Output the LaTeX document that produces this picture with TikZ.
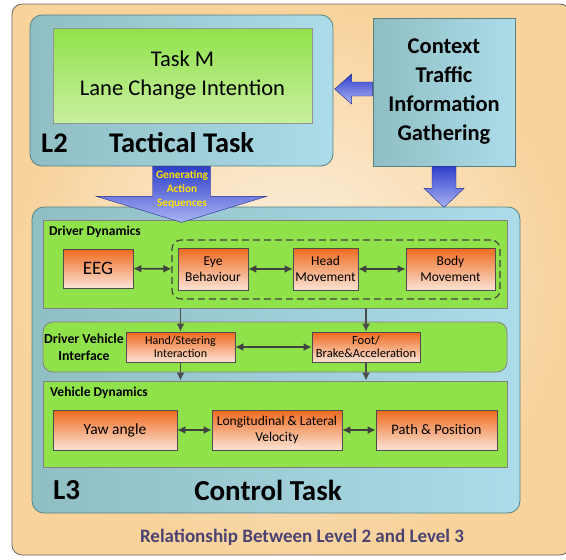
\documentclass[tikz,border=0pt]{standalone}
\usepackage{fontspec}
\setmainfont{Carlito}
\usetikzlibrary{arrows,arrows.meta,positioning,calc,shapes}
\tikzset{>=latex}
\definecolor{peach}{HTML}{F8D39C}
\definecolor{cream}{HTML}{FCF2E4}
\definecolor{tealA}{HTML}{8FBEC3}
\definecolor{tealB}{HTML}{ACDCE9}
\definecolor{leaf}{HTML}{90E24A}
\definecolor{leafB}{HTML}{C9EFA0}
\definecolor{rust}{HTML}{EF6A1E}
\definecolor{blush}{HTML}{FBE3D6}
\definecolor{navy}{HTML}{2F3FCB}
\definecolor{sky}{HTML}{A9B3F4}
\definecolor{plum}{HTML}{4A4272}
\tikzset{
  frame/.style={draw=gray!80!black, line width=0.8pt, rounded corners=10pt, inner color=cream, outer color=peach},
  task/.style={draw=gray!70!teal, line width=0.8pt, rounded corners=12pt, left color=tealA, right color=tealB},
  ctxbox/.style={draw=gray!70!teal, line width=0.8pt, left color=tealA, right color=tealB},
  layer/.style={draw=gray!60!black!70, line width=0.8pt, fill=leaf},
  item/.style={draw=gray!60!black, line width=0.6pt, top color=rust, bottom color=blush, align=center, inner sep=1pt},
  bluearrow/.style={draw=navy!70!black, line width=0.4pt, top color=navy, bottom color=sky},
  link/.style={{Latex[length=8pt,width=8pt]}-{Latex[length=8pt,width=8pt]}, line width=1.6pt, color=black!75},
  down/.style={-{Latex[length=8pt,width=8pt]}, line width=1.6pt, color=black!70},
  lab/.style={font=\bfseries\fontsize{13.5}{16}\selectfont, anchor=north west, inner sep=0pt}
}

\begin{document}
\begin{tikzpicture}[x=1pt,y=-1pt]
\useasboundingbox (0,0) rectangle (566,560);
\path[frame] (12,4) rectangle (570,555);

% level 2
\node[task, minimum width=303, minimum height=151] (l2) at (181.5,90.5) {};
\node[draw=gray!60!black!60, top color=leaf, bottom color=leafB, minimum width=259, minimum height=95, align=center, font=\fontsize{22.5}{29}\selectfont] (taskm) at (182.5,75.5) {Task M\\Lane Change Intention};
\node[anchor=west, font=\bfseries\fontsize{28.5}{30}\selectfont, inner sep=0pt] (l2lab) at (41,143) {L2};
\node[anchor=west, font=\bfseries\fontsize{28.5}{30}\selectfont, inner sep=0pt] (tactical) at (109,143) {Tactical Task};
\node[ctxbox, minimum width=142, minimum height=148, align=center, font=\bfseries\fontsize{22.5}{29}\selectfont] (ctx) at (444,92) {Context\\Traffic\\Information\\Gathering};

% level 3
\node[task, minimum width=488, minimum height=306] (l3) at (276,360) {};
\node[layer, minimum width=464, minimum height=88] (dd) at (275,264) {};
\node[lab] (ddlab) at (49,226) {Driver Dynamics};
\node[item, minimum width=70, minimum height=39, font=\fontsize{19}{20}\selectfont] (eeg) at (98,268.5) {EEG};
\node[draw=black!75, dashed, dash pattern=on 7pt off 4pt, line width=1.1pt, rounded corners=9pt, minimum width=328, minimum height=59] (senses) at (336,269.5) {};
\node[item, minimum width=70, minimum height=42, font=\fontsize{13.5}{16}\selectfont] (eye) at (213,269) {Eye\\Behaviour};
\node[item, minimum width=65, minimum height=42, font=\fontsize{13.5}{16}\selectfont] (head) at (325.5,269) {Head\\Movement};
\node[item, minimum width=89, minimum height=42, font=\fontsize{13.5}{16}\selectfont] (body) at (450.5,269) {Body\\Movement};

\node[layer, rounded corners=10pt, minimum width=464, minimum height=50] (dvi) at (275,347) {};
\node[align=center, font=\bfseries\fontsize{13.8}{17}\selectfont, inner sep=0pt] (dvilab) at (84,347) {Driver Vehicle\\Interface};
\node[item, minimum width=109, minimum height=30, font=\fontsize{12}{13}\selectfont] (hand) at (180.5,347) {Hand/Steering\\Interaction};
\node[item, minimum width=108, minimum height=30, font=\fontsize{12.5}{13}\selectfont] (foot) at (366,347) {Foot/\\Brake\&Acceleration};

\node[layer, minimum width=464, minimum height=86] (vd) at (275,424) {};
\node[lab] (vdlab) at (50,387) {Vehicle Dynamics};
\node[item, minimum width=124, minimum height=40, font=\fontsize{15.5}{16}\selectfont] (yaw) at (115,430) {Yaw angle};
\node[item, minimum width=130, minimum height=40, font=\fontsize{13.5}{16}\selectfont] (velo) at (277,430) {Longitudinal \& Lateral\\Velocity};
\node[item, minimum width=121, minimum height=40, font=\fontsize{14.5}{16}\selectfont] (path) at (436.5,430) {Path \& Position};

\node[anchor=west, font=\bfseries\fontsize{29}{30}\selectfont, inner sep=0pt] (l3lab) at (53,490) {L3};
\node[font=\bfseries\fontsize{29}{30}\selectfont, inner sep=0pt] (control) at (268,490) {Control Task};

\node[font=\bfseries\fontsize{19}{22}\selectfont, text=plum] (caption) at (302,537) {Relationship Between Level 2 and Level 3};

% block arrows
\path[bluearrow] ($(ctx.west)+(0,-10)$) -- ++(-21,0) -- ++(0,-8) -- ++(-17,15) -- ++(17,15) -- ++(0,-8) -- ++(21,0) -- cycle;
\path[bluearrow] ($(ctx.south)+(-12,0)$) -- ++(0,22) -- ++(-8,0) -- ++(20,19) -- ++(20,-19) -- ++(-8,0) -- ++(0,-22) -- cycle;
\path[bluearrow] ($(l2.south)+(-29,0)$) -- ++(0,30) -- ++(-56,0) -- ++(85,26) -- ++(85,-26) -- ++(-56,0) -- ++(0,-30) -- cycle;
\node[align=center, text=yellow!85!orange, font=\bfseries\fontsize{11.3}{14}\selectfont, inner sep=0pt] (gen) at (182,189) {Generating\\Action\\Sequences};

\begin{scope}
\draw[link] (eeg) to (senses);
\draw[link] (eye) to (head);
\draw[link] (head) to (body);
\draw[link] (hand) to (foot);
\draw[link] (yaw) to (velo);
\draw[link] (velo) to (path);
\draw[down] (hand.north |- dd.south) to (hand.north);
\draw[down] (foot.north |- dd.south) to (foot.north);
\draw[down] (hand.south) to (hand.south |- vd.north);
\draw[down] (foot.south) to (foot.south |- vd.north);
\end{scope}
\end{tikzpicture}
\end{document}
